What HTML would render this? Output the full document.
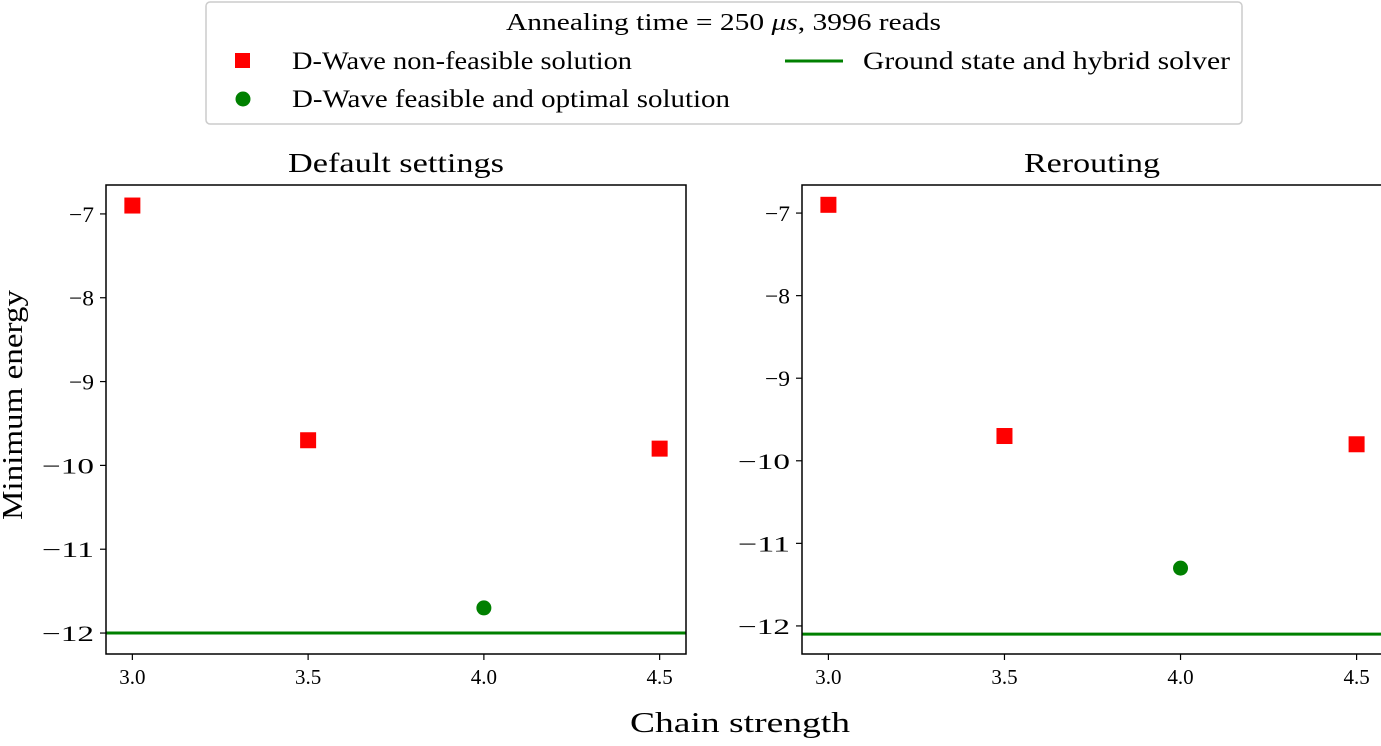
<!DOCTYPE html>
<html><head><meta charset="utf-8">
<style>
body{margin:0;background:#fff;}
svg text{font-family:"Liberation Serif",serif;fill:#000;}
</style></head>
<body>
<svg id="chart" width="1381" height="741" xmlns="http://www.w3.org/2000/svg">
<g>
<rect x="206" y="2" width="1036" height="122" rx="4" fill="#fff" stroke="#ccc" stroke-width="1.5"/>
<text x="506" y="30" font-size="24" textLength="435" lengthAdjust="spacingAndGlyphs">Annealing time = 250 <tspan font-style="italic">μs</tspan>, 3996 reads</text>
<rect x="235" y="53" width="15" height="15" fill="#ff0000"/>
<text x="292" y="69" font-size="25" textLength="340" lengthAdjust="spacingAndGlyphs">D-Wave non-feasible solution</text>
<circle cx="243" cy="99" r="7.5" fill="#008000"/>
<text x="292" y="107" font-size="25" textLength="438" lengthAdjust="spacingAndGlyphs">D-Wave feasible and optimal solution</text>
<line x1="785" y1="61" x2="843" y2="61" stroke="#008000" stroke-width="3"/>
<text x="863" y="69" font-size="25" textLength="367" lengthAdjust="spacingAndGlyphs">Ground state and hybrid solver</text>
</g>
<text x="22" y="520" font-size="29" textLength="230" lengthAdjust="spacingAndGlyphs" transform="rotate(-90 22 520)">Minimum energy</text>
<text x="630" y="732" font-size="29" textLength="220" lengthAdjust="spacingAndGlyphs">Chain strength</text>
</svg>
<script>
const xTicks=[3.0,3.5,4.0,4.5];
const xTickLabels=["3.0","3.5","4.0","4.5"];
const yTicks=[-7,-8,-9,-10,-11,-12];
const yTickLabels=["−7","−8","−9","−10","−11","−12"];
const leftSquareX=[3.0,3.5,4.5];
const leftSquareY=[-6.9,-9.7,-9.8];
const leftCircleX=[4.0];
const leftCircleY=[-11.7];
const leftGround=-12.0;
const rightSquareX=[3.0,3.5,4.5];
const rightSquareY=[-6.9,-9.7,-9.8];
const rightCircleX=[4.0];
const rightCircleY=[-11.3];
const rightGround=-12.1;

const NS="http://www.w3.org/2000/svg";
const svg=document.getElementById('chart');
function mk(tag,attrs,parent){const e=document.createElementNS(NS,tag);for(const k in attrs)e.setAttribute(k,attrs[k]);(parent||svg).appendChild(e);return e;}

function panel(name,title,titleX,titleW,L,R,T,B,xmin,xmax,ymin,ymax,sx,sy,cx,cy,ground,rightSpine){
  const g=mk('g',{});
  
  
  const X=v=>L+(v-xmin)/(xmax-xmin)*(R-L);
  const Y=v=>T+(ymax-v)/(ymax-ymin)*(B-T);
  const t=mk('text',{x:titleX,y:172,'font-size':27,textLength:titleW,lengthAdjust:'spacingAndGlyphs'},g);
  t.textContent=title;
  
  
  const gl=mk('line',{x1:L,x2:R,y1:Y(ground),y2:Y(ground),stroke:'#008000','stroke-width':3},g);
  
  
  sx.forEach((v,i)=>{const r=mk('rect',{x:X(v)-8,y:Y(sy[i])-8,width:16,height:16,fill:'#ff0000'},g);
    
    });
  cx.forEach((v,i)=>{const c=mk('circle',{cx:X(v),cy:Y(cy[i]),r:7.5,fill:'#008000'},g);
    
    });
  const d=rightSpine?`M${L},${T}H${R}V${B}H${L}Z`:`M${R},${T}H${L}V${B}H${R}`;
  const f=mk('path',{d:d,fill:'none',stroke:'#000','stroke-width':1.5},g);
  
  
  xTicks.forEach((v,i)=>{mk('line',{x1:X(v),x2:X(v),y1:B,y2:B+6,stroke:'#000','stroke-width':1.2},g);
    const tx=mk('text',{x:X(v),y:B+30,'font-size':21,'text-anchor':'middle'},g);tx.textContent=xTickLabels[i];
    
    });
  yTicks.forEach((v,i)=>{mk('line',{x1:L-6,x2:L,y1:Y(v),y2:Y(v),stroke:'#000','stroke-width':1.2},g);
    const w=yTickLabels[i].length>2?52:25;
    const ty=mk('text',{x:L-12-w,y:Y(v)+8,'font-size':22,textLength:w,lengthAdjust:'spacingAndGlyphs'},g);ty.textContent=yTickLabels[i];
    
    });
}
panel('left-panel','Default settings',288,216,106,686,185,654,2.925,4.575,-12.25,-6.655,leftSquareX,leftSquareY,leftCircleX,leftCircleY,leftGround,true);
panel('right-panel','Rerouting',1024,136,802,1383,185,654,2.925,4.575,-12.34,-6.66,rightSquareX,rightSquareY,rightCircleX,rightCircleY,rightGround,false);
</script>
</body></html>
